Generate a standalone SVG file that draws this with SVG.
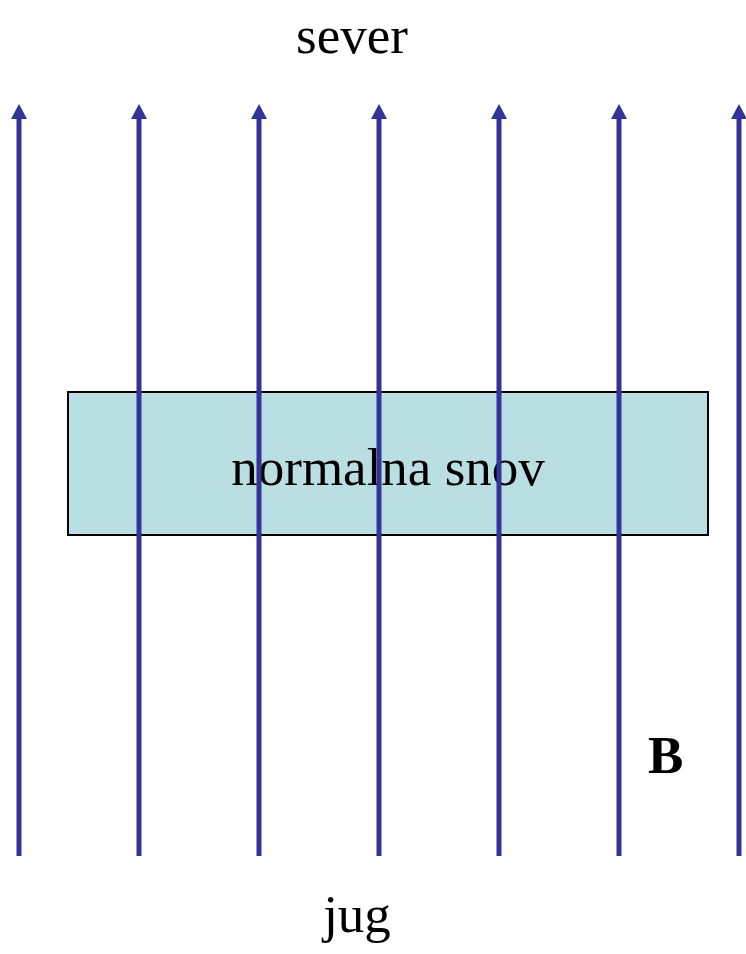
<svg xmlns="http://www.w3.org/2000/svg" width="746" height="954" viewBox="0 0 746 954">
<style>
.t{font-family:"Liberation Serif","Times New Roman",serif;font-size:53px;fill:#000}
.fl{stroke:#333399;stroke-width:5;fill:none}
</style>
<defs>
<marker id="ah" markerUnits="userSpaceOnUse" markerWidth="16" markerHeight="16" viewBox="0 0 16 16" refX="0" refY="8" orient="auto">
<path d="M0,0 L15,8 L0,16 Z" fill="#333399"/>
</marker>
</defs>
<rect width="746" height="954" fill="#fff"/>
<g id="snov">
<rect x="68" y="392" width="640" height="143" fill="#b9dfe2" stroke="#000" stroke-width="2"/>
<text class="t" x="388" y="485" text-anchor="middle">normalna snov</text>
</g>
<g id="field-lines">
<path class="fl" d="M19,856 V119" marker-end="url(#ah)"/>
<path class="fl" d="M139,856 V119" marker-end="url(#ah)"/>
<path class="fl" d="M259,856 V119" marker-end="url(#ah)"/>
<path class="fl" d="M379,856 V119" marker-end="url(#ah)"/>
<path class="fl" d="M499,856 V119" marker-end="url(#ah)"/>
<path class="fl" d="M619,856 V119" marker-end="url(#ah)"/>
<path class="fl" d="M739,856 V119" marker-end="url(#ah)"/>
</g>
<g id="labels">
<text class="t" x="352" y="53" text-anchor="middle">sever</text>
<text class="t" x="357" y="932" text-anchor="middle">jug</text>
<text class="t" x="648" y="773" font-weight="bold">B</text>
</g>
</svg>
